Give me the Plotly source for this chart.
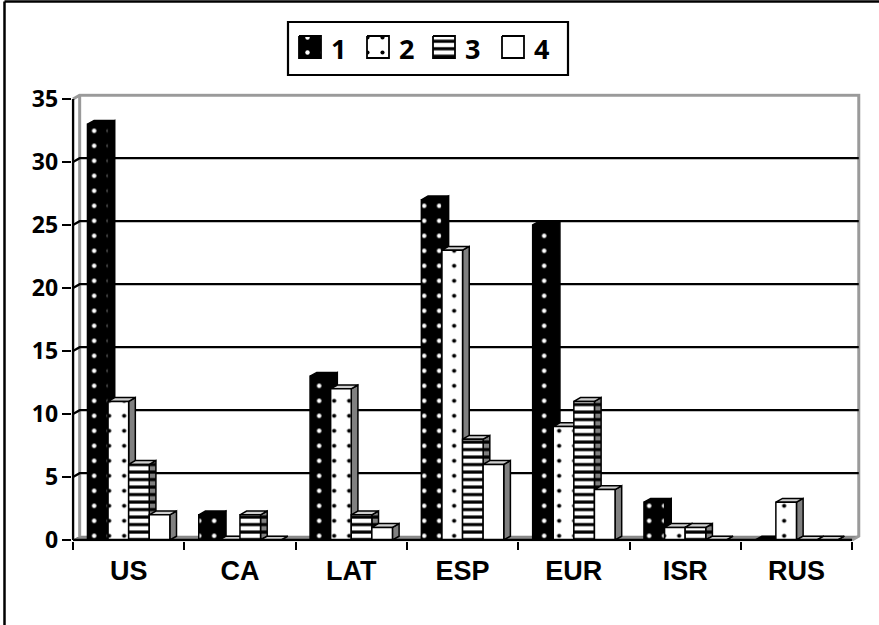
import plotly.graph_objects as go

# ---- data -------------------------------------------------------------
categories = ["US", "CA", "LAT", "ESP", "EUR", "ISR", "RUS"]
series_names = ["1", "2", "3", "4"]
s1 = [33, 2, 13, 27, 25, 3, 0]
s2 = [11, 0, 12, 23, 9, 1, 3]
s3 = [6, 2, 2, 8, 11, 1, 0]
s4 = [2, 0, 1, 6, 4, 0, 0]
y_ticks = [0, 5, 10, 15, 20, 25, 30, 35]
series_values = [s1, s2, s3, s4]

# ---- geometry ---------------------------------------------------------
W, H = 879, 625
PX_X = 111.3          # pixels per category
PX_Y = 12.6           # pixels per value unit
X0_PX, Y0_PX = 73, 540
DX, DY = 0.06, 0.3    # 3-D depth offset in data units
XR = (-0.012, 7.08)
YR = (-0.1, 35.45)
NCAT = len(categories)
YMAX = 35

xdom = [(X0_PX + XR[0] * PX_X) / W, (X0_PX + XR[1] * PX_X) / W]
ydom = [(H - (Y0_PX - YR[0] * PX_Y)) / H, (H - (Y0_PX - YR[1] * PX_Y)) / H]

GROUP = 0.74
BW = GROUP / len(series_values)
OFF = (1 - GROUP) / 2

SIDE_GRAY = "#808080"
TOP_GRAY = "#cfcfcf"

front_style = [
    dict(fillcolor="black", fillpattern=dict(shape=".", bgcolor="black", fgcolor="white", size=15, solidity=0.07)),
    dict(fillcolor="white", fillpattern=dict(shape=".", bgcolor="white", fgcolor="black", size=15, solidity=0.06)),
    dict(fillcolor="white", fillpattern=dict(shape="-", bgcolor="white", fgcolor="black", size=7.5, solidity=0.42)),
    dict(fillcolor="white"),
]
side_style = [
    dict(fillcolor="black"),
    dict(fillcolor=SIDE_GRAY),
    dict(fillcolor=SIDE_GRAY, fillpattern=dict(shape="-", bgcolor=SIDE_GRAY, fgcolor="black", size=7.5, solidity=0.42)),
    dict(fillcolor=SIDE_GRAY),
]
top_style = [
    dict(fillcolor="black"),
    dict(fillcolor=TOP_GRAY),
    dict(fillcolor=TOP_GRAY),
    dict(fillcolor=TOP_GRAY),
]


def poly_trace(xs, ys, style, xaxis="x", yaxis="y", lw=1.5, lc="black"):
    return go.Scatter(x=xs, y=ys, mode="lines", fill="toself",
                      line=dict(color=lc, width=lw), hoverinfo="skip",
                      showlegend=False, xaxis=xaxis, yaxis=yaxis, **style)


def line_trace(xs, ys, color, width):
    return go.Scatter(x=xs, y=ys, mode="lines", line=dict(color=color, width=width),
                      hoverinfo="skip", showlegend=False)


fig = go.Figure()

# floor
fig.add_trace(poly_trace([0, NCAT, NCAT + DX, DX, 0], [0, 0, DY, DY, 0],
                         dict(fillcolor="#8c8c8c"), lw=0.8, lc="#6e6e6e"))

# back-wall outline (gray)
fig.add_trace(line_trace([0, DX, NCAT + DX, NCAT + DX, NCAT],
                         [YMAX, YMAX + DY, YMAX + DY, DY, 0], "#9a9a9a", 3))
fig.add_trace(line_trace([DX, DX], [DY, YMAX + DY], "#9a9a9a", 3))

# gridlines on the back wall
gx, gy = [], []
for v in y_ticks[1:-1]:
    gx += [0, DX, NCAT + DX, None]
    gy += [v, v + DY, v + DY, None]
fig.add_trace(line_trace(gx, gy, "black", 2.2))

# 3-D columns, drawn series by series (left to right inside each group)
for s, vals in enumerate(series_values):
    fx, fy, sx, sy, tx, ty = [], [], [], [], [], []
    for i, v in enumerate(vals):
        x0 = i + OFF + s * BW
        x1 = x0 + BW
        fx += [x0, x1, x1, x0, x0, None]
        fy += [0, 0, v, v, 0, None]
        sx += [x1, x1 + DX, x1 + DX, x1, x1, None]
        sy += [0, DY, v + DY, v, 0, None]
        tx += [x0, x1, x1 + DX, x0 + DX, x0, None]
        ty += [v, v, v + DY, v + DY, v, None]
    fig.add_trace(poly_trace(sx, sy, side_style[s]))
    fig.add_trace(poly_trace(tx, ty, top_style[s]))
    fig.add_trace(poly_trace(fx, fy, front_style[s]))

# front axis lines
fig.add_trace(line_trace([0, 0, None, 0, NCAT], [0, YMAX, None, 0, 0], "black", 2.5))

# ---- legend (drawn in a pixel-space overlay) --------------------------
LEG_X = [299, 367, 433, 502]
LEG_Y0, LEG_Y1, LEG_S = 36, 58, 22
for s, name in enumerate(series_names):
    x0 = LEG_X[s]
    fig.add_trace(poly_trace([x0, x0 + LEG_S, x0 + LEG_S, x0, x0],
                             [LEG_Y0, LEG_Y0, LEG_Y1, LEG_Y1, LEG_Y0],
                             front_style[s], xaxis="x2", yaxis="y2", lw=1.8))
    fig.add_annotation(x=x0 + LEG_S + 8, y=(LEG_Y0 + LEG_Y1) / 2 + 1, xref="x2", yref="y2",
                       text="<b>" + name + "</b>", showarrow=False, xanchor="left", yanchor="middle",
                       font=dict(family="Open Sans", size=27, color="black"))

fig.add_shape(type="rect", xref="paper", yref="paper",
              x0=288 / W, x1=568 / W, y0=1 - 75 / H, y1=1 - 22 / H,
              line=dict(color="black", width=2.2), fillcolor="rgba(0,0,0,0)")

# outer frame (left and top edges; the others lie past the page)
fig.add_shape(type="line", xref="paper", yref="paper",
              x0=4.5 / W, x1=4.5 / W, y0=-0.01, y1=1 - 1.5 / H,
              line=dict(color="black", width=2.5))
fig.add_shape(type="line", xref="paper", yref="paper",
              x0=4.5 / W, x1=1.01, y0=1 - 1.5 / H, y1=1 - 1.5 / H,
              line=dict(color="black", width=2.5))

tick_font = dict(family="Open Sans", size=23, color="black")
cat_font = dict(family="Liberation Sans", size=27, color="black")

fig.update_layout(
    template="none",
    width=W, height=H, autosize=False,
    margin=dict(l=0, r=0, t=0, b=0, pad=0),
    paper_bgcolor="white", plot_bgcolor="rgba(0,0,0,0)",
    showlegend=False,
    xaxis=dict(domain=xdom, range=list(XR), showgrid=False, zeroline=False, showline=False,
               automargin=False,
               tickmode="array", tickvals=[i + 0.5 for i in range(NCAT)],
               ticktext=["<b>" + c + "</b>" for c in categories],
               ticks="", tickfont=cat_font, ticklabelstandoff=11,
               minor=dict(tickmode="array", tickvals=list(range(NCAT + 1)), ticks="outside",
                          ticklen=8, tickwidth=2, tickcolor="black", showgrid=False)),
    yaxis=dict(domain=ydom, range=list(YR), showgrid=False, zeroline=False, showline=False,
               automargin=False,
               tickmode="array", tickvals=y_ticks, ticktext=["<b>%d</b>" % v for v in y_ticks],
               ticks="outside", ticklen=9, tickwidth=2, ticklabelstandoff=-1,
               tickcolor="black", tickfont=tick_font),
    xaxis2=dict(domain=[0, 1], range=[0, W], visible=False, fixedrange=True, automargin=False),
    yaxis2=dict(domain=[0, 1], range=[H, 0], visible=False, fixedrange=True, automargin=False),
)

fig.write_html("out.html")
